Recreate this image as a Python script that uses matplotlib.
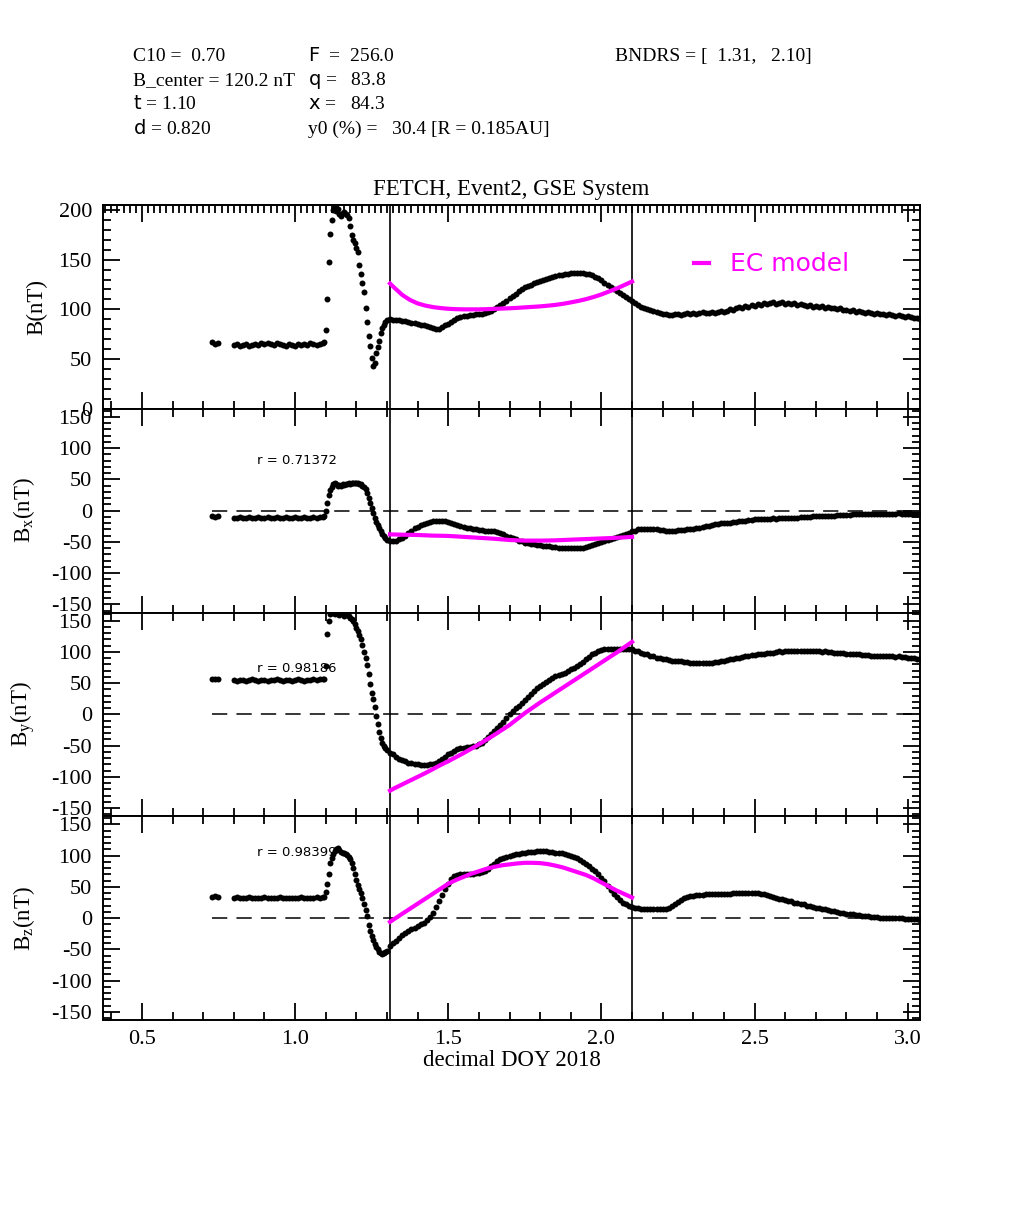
import numpy as np
import matplotlib
matplotlib.use("Agg")
import matplotlib.pyplot as plt
from matplotlib.lines import Line2D
from matplotlib.ticker import MultipleLocator

plt.rcParams["font.family"] = ["Liberation Serif", "DejaVu Serif"]
plt.rcParams["mathtext.fontset"] = "custom"
plt.rcParams["mathtext.rm"] = "Liberation Serif"
plt.rcParams["mathtext.it"] = "Liberation Serif:italic"
plt.rcParams["mathtext.sf"] = "DejaVu Sans"
plt.rcParams["axes.unicode_minus"] = False

# ── sampling grid (decimal DOY) ──────────────────────────────────────────────
t_pre = np.array([0.73, 0.74, 0.75])
t_up = np.arange(80, 110) / 100            # 0.80 .. 1.09
t_sheath = np.arange(1095, 1301, 5) / 1000  # 1.095 .. 1.300
t_cloud = np.arange(131, 305) / 100         # 1.31 .. 3.04
doy = np.concatenate([t_pre, t_up, t_sheath, t_cloud])

# ── |B| (nT) ─────────────────────────────────────────────────────────────────
b_pre = [67, 65, 66]
b_up = [64, 65, 63, 64, 65, 63, 64, 65, 64, 66, 65, 66, 65, 64, 66,
        65, 64, 63, 65, 64, 63, 65, 64, 65, 64, 66, 65, 64, 65, 66]
b_sheath = [67, 79, 110, 148, 176, 190, 200, 203, 199, 201,
            196, 194, 197, 198, 196, 195, 192, 184, 175, 170,
            167, 162, 158, 145, 136, 127, 117, 101, 87, 73,
            63, 51, 43, 46, 56, 62, 68, 76, 81, 84, 87, 89]
b_cloud = [90, 89, 89, 89, 88, 88, 87, 86, 86, 85,
           84, 84, 83, 82, 81, 80, 80, 82, 84, 85,
           87, 89, 91, 92, 93, 93, 94, 94, 95, 95,
           95, 96, 97, 98, 100, 102, 104, 106, 108, 111,
           113, 115, 118, 120, 122, 124, 125, 127, 128, 129,
           130, 131, 132, 133, 134, 135, 135, 136, 136, 137,
           137, 137, 137, 137, 136, 136, 135, 133, 132, 130,
           127, 125, 122, 120, 118, 116, 114, 112, 110, 108,
           106, 104, 102, 101, 100, 99, 98, 97, 96, 95,
           95, 94, 94, 95, 95, 94, 95, 96, 95, 96,
           95, 96, 97, 96, 96, 97, 96, 97, 98, 97,
           98, 100, 99, 101, 102, 101, 103, 102, 104, 103,
           105, 104, 106, 105, 106, 107, 105, 106, 107, 105,
           106, 105, 106, 104, 105, 104, 103, 104, 102, 103,
           102, 103, 101, 102, 101, 101, 100, 101, 99, 99,
           98, 99, 97, 98, 97, 96, 97, 96, 95, 96,
           95, 95, 94, 95, 94, 93, 94, 93, 92, 93,
           92, 91, 91, 90]

# ── Bx (nT) ──────────────────────────────────────────────────────────────────
bx_pre = [-9, -10, -9]
bx_up = [-11, -11, -10, -11, -11, -10, -11, -11, -10, -11,
         -11, -10, -11, -11, -10, -11, -11, -10, -11, -11,
         -10, -11, -11, -10, -11, -11, -10, -11, -10, -10]
bx_sheath = [-9, 0, 13, 25, 33, 38, 42, 44, 42, 40,
             41, 40, 43, 41, 43, 42, 44, 43, 45, 44,
             45, 44, 44, 43, 42, 40, 38, 34, 28, 21,
             13, 4, -4, -11, -18, -23, -28, -33, -37, -41, -44, -47]
bx_cloud = [-49, -49, -48, -46, -43, -40, -36, -32, -28, -26,
            -23, -21, -19, -18, -17, -16, -16, -16, -17, -18,
            -20, -21, -23, -24, -26, -27, -28, -29, -30, -31,
            -31, -32, -32, -33, -33, -34, -36, -38, -40, -42,
            -44, -46, -48, -49, -51, -52, -53, -54, -55, -55,
            -56, -57, -57, -58, -58, -59, -59, -59, -60, -60,
            -60, -60, -60, -59, -58, -57, -55, -54, -52, -50,
            -49, -47, -46, -44, -42, -40, -39, -37, -35, -33,
            -32, -30, -30, -29, -29, -29, -30, -30, -31, -31,
            -32, -32, -32, -32, -31, -31, -31, -30, -30, -29,
            -28, -27, -26, -25, -24, -23, -22, -21, -20, -20,
            -19, -19, -18, -18, -17, -17, -16, -15, -15, -14,
            -14, -13, -13, -13, -13, -12, -13, -12, -12, -12,
            -12, -11, -11, -11, -10, -10, -10, -10, -9, -9,
            -9, -9, -8, -8, -8, -8, -7, -7, -7, -7,
            -7, -6, -6, -6, -6, -6, -6, -5, -5, -5,
            -5, -5, -5, -5, -5, -5, -4, -5, -5, -5,
            -5, -5, -6, -6]

# ── By (nT) ──────────────────────────────────────────────────────────────────
by_pre = [57, 56, 57]
by_up = [55, 54, 55, 55, 54, 55, 56, 55, 54, 55,
         55, 54, 55, 55, 56, 55, 54, 55, 55, 54,
         55, 56, 55, 54, 55, 55, 56, 55, 56, 57]
by_sheath = [56, 78, 128, 150, 161, 165, 162, 160, 163, 161,
             159, 162, 160, 158, 161, 159, 157, 155, 152, 149,
             144, 139, 133, 127, 120, 111, 100, 90, 79, 65,
             49, 34, 24, 12, -2, -15, -28, -38, -45, -50, -54, -57]
by_cloud = [-61, -64, -68, -71, -73, -75, -77, -78, -79, -80,
            -81, -81, -81, -80, -79, -77, -74, -71, -68, -64,
            -61, -58, -55, -54, -53, -52, -52, -51, -50, -48,
            -45, -41, -36, -31, -26, -22, -17, -12, -6, 0,
            5, 10, 14, 19, 23, 28, 33, 38, 42, 46,
            49, 52, 55, 58, 61, 63, 65, 67, 69, 72,
            75, 78, 81, 84, 88, 92, 96, 99, 101, 103,
            104, 105, 105, 105, 104, 104, 104, 104, 105, 104,
            102, 101, 99, 97, 96, 94, 93, 91, 90, 89,
            88, 87, 86, 86, 85, 85, 84, 84, 83, 83,
            82, 83, 82, 82, 83, 83, 84, 84, 85, 86,
            87, 88, 89, 90, 91, 92, 93, 94, 95, 95,
            96, 97, 97, 98, 99, 99, 100, 101, 100, 101,
            101, 102, 101, 102, 102, 101, 102, 101, 102, 101,
            101, 100, 101, 100, 100, 99, 99, 98, 98, 97,
            97, 97, 96, 96, 95, 95, 95, 94, 94, 94,
            94, 93, 93, 93, 93, 92, 93, 92, 92, 91,
            91, 90, 89, 89]

# ── Bz (nT) ──────────────────────────────────────────────────────────────────
bz_pre = [34, 35, 34]
bz_up = [33, 34, 33, 32, 33, 34, 33, 33, 32, 33,
         34, 33, 33, 32, 33, 34, 33, 32, 33, 33,
         32, 33, 34, 33, 32, 33, 33, 34, 33, 34]
bz_sheath = [34, 42, 55, 70, 88, 97, 103, 108, 111, 112,
             109, 106, 105, 104, 103, 101, 98, 94, 88, 80,
             70, 61, 53, 47, 40, 32, 22, 13, 3, -11,
             -20, -28, -35, -41, -46, -50, -54, -56, -57, -56, -54, -52]
bz_cloud = [-45, -40, -36, -31, -27, -23, -20, -17, -15, -13,
            -10, -7, -3, 2, 9, 18, 27, 37, 46, 55,
            62, 67, 69, 70, 70, 70, 70, 71, 72, 73,
            74, 76, 79, 83, 87, 91, 94, 96, 98, 100,
            101, 102, 103, 104, 105, 106, 106, 106, 107, 107,
            107, 107, 106, 106, 105, 105, 104, 103, 101, 100,
            98, 96, 93, 90, 87, 83, 79, 75, 70, 65,
            59, 52, 45, 39, 34, 29, 25, 22, 20, 18,
            17, 16, 15, 15, 14, 14, 14, 14, 14, 15,
            15, 17, 19, 22, 26, 29, 32, 34, 35, 36,
            37, 37, 37, 38, 38, 38, 38, 39, 38, 39,
            39, 39, 40, 40, 40, 41, 40, 40, 41, 40,
            40, 39, 38, 37, 35, 34, 33, 31, 30, 29,
            28, 27, 25, 24, 23, 22, 20, 19, 18, 17,
            16, 15, 14, 13, 12, 11, 10, 9, 8, 7,
            7, 6, 5, 5, 4, 3, 3, 2, 2, 2,
            1, 1, 1, 1, 1, 0, 0, 0, -1, -1,
            -1, -2, -2, -3]

# ── EC model inside the boundaries ───────────────────────────────────────────
t_model = np.concatenate([[1.31], np.arange(53, 85) / 40])   # 1.31, 1.325 .. 2.10
b_model = [126, 121.5, 114.5, 109.5, 106, 103.8, 102.3, 101.3, 100.6, 100.2,
           100, 100, 100, 100.2, 100.5, 100.8, 101.1, 101.5, 102, 102.5,
           103, 103.7, 104.5, 105.6, 107, 108.5, 110.3, 112.5, 115, 118,
           121, 124.5, 128]
bx_model = [-38, -38.2, -38.5, -38.7, -39, -39.5, -40, -40.2, -40.5, -41.2,
            -42, -42.7, -43.5, -44.2, -45, -46, -47, -47.5, -48, -48,
            -48, -47.8, -47.5, -47, -46.5, -46, -45.5, -45, -44.5, -44,
            -43.5, -42.8, -42]
by_model = [-122, -118, -112, -106, -100, -94, -87.5, -81, -75, -68.5,
            -62, -55, -48, -40.5, -33, -25, -17, -7.5, 2, 10.5,
            19, 27, 35, 43, 51, 59, 67, 75, 83, 91,
            99, 107.5, 116]
bz_model = [-6, -1, 7, 15, 23, 31, 39, 47, 55, 61,
            66, 71, 75, 79, 82, 84.5, 86, 87.5, 88.5, 88.5,
            88, 86.5, 84, 81, 77, 73, 69, 63.5, 57, 50.5,
            44, 38.5, 33]

bndrs = [1.31, 2.10]
corr = [None, 0.71372, 0.98186, 0.98399]

obs = [b_pre + b_up + b_sheath + b_cloud,
       bx_pre + bx_up + bx_sheath + bx_cloud,
       by_pre + by_up + by_sheath + by_cloud,
       bz_pre + bz_up + bz_sheath + bz_cloud]
models = [b_model, bx_model, by_model, bz_model]
ylabels = ["B(nT)", r"B$_{\mathrm{x}}$(nT)", r"B$_{\mathrm{y}}$(nT)", r"B$_{\mathrm{z}}$(nT)"]
ylims = [(0, 205), (-163, 163), (-163, 163), (-163, 163)]
r_pos = [None, (0.875, 80), (0.875, 73), (0.875, 105)]

header = [
    (133, 61, "C10 =  0.70"),
    (308, 61, r"$\mathsf{F}$  =  256.0"),
    (615, 61, "BNDRS = [  1.31,   2.10]"),
    (133, 85, "B_center = 120.2 nT"),
    (308, 85, r"$\mathsf{q}$ =   83.8"),
    (133, 109, r"$\mathsf{t}$ = 1.10"),
    (308, 109, r"$\mathsf{x}$ =   84.3"),
    (133, 134, r"$\mathsf{d}$ = 0.820"),
    (308, 134, "y0 (%) =   30.4 [R = 0.185AU]"),
]

W, H = 1023, 1225
fig = plt.figure(figsize=(W / 100, H / 100), dpi=100)
axes = fig.subplots(4, 1, sharex=True)
fig.subplots_adjust(left=103 / W, right=920 / W, bottom=1 - 1020 / H,
                    top=1 - 205 / H, hspace=0)

for px, py, s in header:
    fig.text(px / W, 1 - py / H, s, fontsize=14, va="baseline", ha="left")

for i, ax in enumerate(axes):
    y = np.asarray(obs[i], dtype=float)
    if i > 0:
        ax.hlines(0, doy.min(), doy.max(), colors="k", linestyles=(0, (10, 6)),
                  linewidth=1.1, zorder=1)
    for xb in bndrs:
        ax.axvline(xb, color="k", lw=1.2, zorder=1)
    ax.plot(doy, y, "o", color="k", ms=4.3, mew=0, zorder=3)
    ax.plot(t_model, models[i], color="#ff00ff", lw=3, zorder=4)

    ax.set_xlim(0.373, 3.04)
    ax.set_ylim(*ylims[i])
    ax.xaxis.set_major_locator(MultipleLocator(0.5))
    ax.xaxis.set_minor_locator(MultipleLocator(0.1))
    ax.yaxis.set_major_locator(MultipleLocator(50))
    ax.yaxis.set_minor_locator(MultipleLocator(10))
    ax.tick_params(which="both", direction="in", top=True, right=True, width=1.3)
    ax.tick_params(which="major", length=12, labelsize=16)
    ax.tick_params(which="minor", length=6)
    ax.tick_params(axis="y", pad=8)
    ax.tick_params(axis="x", pad=7)
    for sp in ax.spines.values():
        sp.set_linewidth(1.4)
    ax.set_ylabel(ylabels[i], fontsize=16.5)
    ax.yaxis.set_label_coords(-0.068 if i == 0 else -0.081, 0.5)

    if r_pos[i] is not None:
        ax.text(r_pos[i][0], r_pos[i][1], f"r = {corr[i]:.5f}", fontsize=9.5,
                family="DejaVu Sans", va="center", ha="left", zorder=5)

# dense ticks along the very top edge
top = axes[0]
top.tick_params(which="both", top=False)
sec = top.secondary_xaxis("top")
sec.xaxis.set_major_locator(MultipleLocator(0.5))
sec.xaxis.set_minor_locator(MultipleLocator(0.02))
sec.tick_params(which="both", direction="in", width=1.3, labeltop=False)
sec.tick_params(which="major", length=12)
sec.tick_params(which="minor", length=6)
sec.spines["top"].set_linewidth(1.4)

top.set_title("FETCH, Event2, GSE System", fontsize=16.5, pad=7)
top.legend(handles=[Line2D([], [], color="#ff00ff", lw=3)], labels=["EC model"],
           loc="center left", bbox_to_anchor=(0.723, 0.709), frameon=False,
           handlelength=0.6, handletextpad=0.85, borderpad=0, borderaxespad=0,
           labelcolor="#ff00ff", prop={"family": "DejaVu Sans", "size": 18})

axes[-1].set_xlabel("decimal DOY 2018", fontsize=16.5, labelpad=1)

fig.savefig("out.png", dpi=100)
plt.close(fig)
